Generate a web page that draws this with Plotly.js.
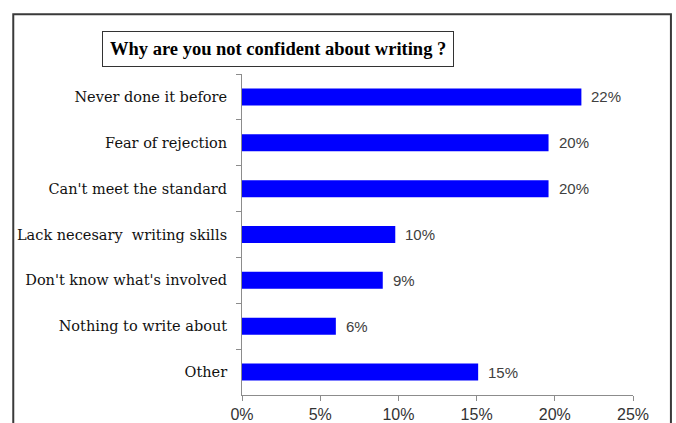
<!DOCTYPE html>
<html>
<head>
<meta charset="utf-8">
<script src="https://cdn.plot.ly/plotly-3.0.1.min.js"></script>
<style>html,body{margin:0;padding:0;background:#fff;}#chart{width:676px;height:423px;}</style>
</head>
<body>
<div id="chart"></div>
<script>
const categories = ["Never done it before", "Fear of rejection", "Can't meet the standard", "Lack necesary  writing skills", "Don't know what's involved", "Nothing to write about", "Other"];
const values = [21.7, 19.6, 19.6, 9.8, 9.0, 6.0, 15.1];
const valueLabels = ["22%", "20%", "20%", "10%", "9%", "6%", "15%"];
const xTickVals = [0, 5, 10, 15, 20, 25];
const xTickText = ["0%", "5%", "10%", "15%", "20%", "25%"];
const chartTitle = "Why are you not confident about writing ?";

const trace = {
  type: 'bar',
  orientation: 'h',
  y: categories,
  x: values,
  marker: {color: '#0000FF', line: {width: 0}},
  hoverinfo: 'none'
};

const labelAnnotations = categories.map((c, i) => ({
  x: values[i], y: c, xref: 'x', yref: 'y',
  text: valueLabels[i], showarrow: false,
  xanchor: 'left', yanchor: 'middle', xshift: 8,
  font: {family: 'Liberation Sans, Arial, sans-serif', size: 15, color: '#404040'}
}));

const layout = {
  width: 676, height: 423,
  margin: {l: 242, r: 43, t: 74, b: 28, pad: 0},
  paper_bgcolor: '#ffffff', plot_bgcolor: '#ffffff',
  showlegend: false,
  bargap: 0.63,
  xaxis: {
    range: [0, 25], tickvals: xTickVals, ticktext: xTickText,
    showgrid: false, zeroline: false,
    showline: true, linecolor: '#8c8c8c', linewidth: 1,
    ticks: 'outside', ticklen: 5, tickcolor: '#8c8c8c',
    tickfont: {family: 'Liberation Sans, Arial, sans-serif', size: 16, color: '#333333'},
    fixedrange: true
  },
  yaxis: {
    type: 'category', autorange: 'reversed',
    showgrid: false, zeroline: false,
    showline: true, linecolor: '#8c8c8c', linewidth: 1,
    ticks: 'outside', ticklen: 5, tickcolor: '#8c8c8c', tickson: 'boundaries',
    ticklabelstandoff: 11,
    tickfont: {family: 'DejaVu Serif, serif', size: 14.5, color: '#111111'},
    fixedrange: true
  },
  annotations: [
    {
      x: 0.092, y: 1.078, xref: 'paper', yref: 'paper',
      xanchor: 'center', yanchor: 'middle', showarrow: false,
      text: '<b>' + chartTitle + '</b>',
      font: {family: 'Liberation Serif, Times New Roman, serif', size: 18.5, color: '#000000'},
      bordercolor: '#333333', borderwidth: 1, borderpad: 7, bgcolor: '#ffffff'
    }
  ].concat(labelAnnotations),
  shapes: [
    {type: 'rect', xref: 'paper', yref: 'paper',
     x0: -0.585, x1: 1.097, y0: -0.3, y1: 1.186,
     line: {color: '#3a3a3a', width: 2}, fillcolor: 'rgba(0,0,0,0)', layer: 'below'}
  ]
};

Plotly.newPlot('chart', [trace], layout, {displayModeBar: false, staticPlot: true});
</script>
</body>
</html>
